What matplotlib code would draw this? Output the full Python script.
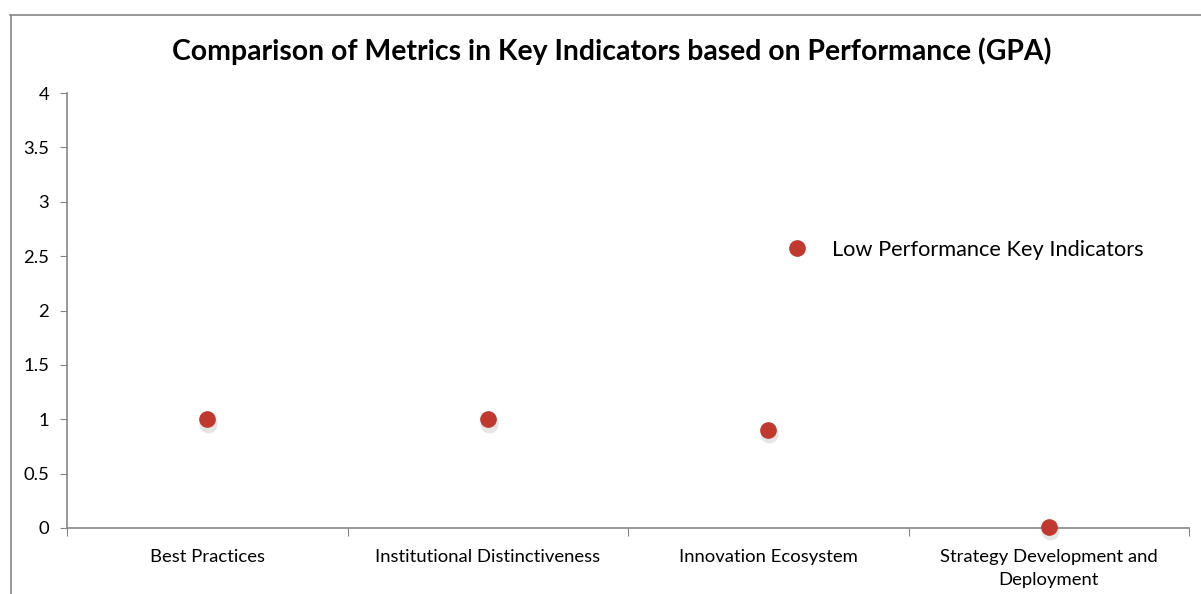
import numpy as np
import matplotlib.pyplot as plt
from matplotlib.lines import Line2D

plt.rcParams['font.family'] = ['Lato', 'DejaVu Sans']

categories = ['Best Practices', 'Institutional Distinctiveness', 'Innovation Ecosystem',
              'Strategy Development and\nDeployment']
gpa = [1.0, 1.0, 0.9, 0.01]
series_name = 'Low Performance Key Indicators'
yticks = [0, 0.5, 1, 1.5, 2, 2.5, 3, 3.5, 4]
ytick_labels = ['0', '0.5', '1', '1.5', '2', '2.5', '3', '3.5', '4']

grey = '#868686'
red = '#C0392F'

fig = plt.figure(figsize=(12.01, 5.94), dpi=100)
ax = fig.add_axes([67/1201, 66/594, 1122/1201, 435/594])

x = np.arange(len(categories)) + 0.5
# soft shadow under the markers
ax.plot(x + 0.004, np.array(gpa) - 0.04, 'o', ms=13, color='#000000', alpha=0.10,
        mec='none', zorder=2, clip_on=False)
ax.plot(x, gpa, 'o', ms=11, color=red, mec=red, zorder=3, clip_on=False, label=series_name)

ax.set_xlim(0, len(categories))
ax.set_ylim(0, 4)
ax.set_xticks(np.arange(len(categories) + 1))
ax.set_xticklabels([])
ax.set_xticks(x, minor=True)
ax.set_xticklabels(categories, minor=True, fontsize=13.3, linespacing=1.55)
ax.tick_params(axis='x', which='minor', length=0, pad=15)
ax.tick_params(axis='x', which='major', length=6, color=grey, direction='out')
ax.set_yticks(yticks)
ax.set_yticklabels(ytick_labels, fontsize=13.3)
ax.tick_params(axis='y', length=5, color=grey, pad=8)

for s in ['top', 'right']:
    ax.spines[s].set_visible(False)
for s in ['left', 'bottom']:
    ax.spines[s].set_color(grey)
    ax.spines[s].set_linewidth(1.2)

fig.text(0.509, 0.913, 'Comparison of Metrics in Key Indicators based on Performance (GPA)',
         ha='center', va='center', fontsize=20.4, fontweight='bold')

leg = ax.legend(loc='upper left', bbox_to_anchor=(0.6135, 0.708), frameon=False,
                fontsize=15.7, handletextpad=0.6, markerscale=1.0)

# chart frame
fig.add_artist(Line2D([10.5/1201, 10.5/1201], [0, 579/594], color=grey, lw=1.2))
fig.add_artist(Line2D([10/1201, 1], [579/594, 579/594], color=grey, lw=1.2))

fig.savefig('out.png', dpi=100)
